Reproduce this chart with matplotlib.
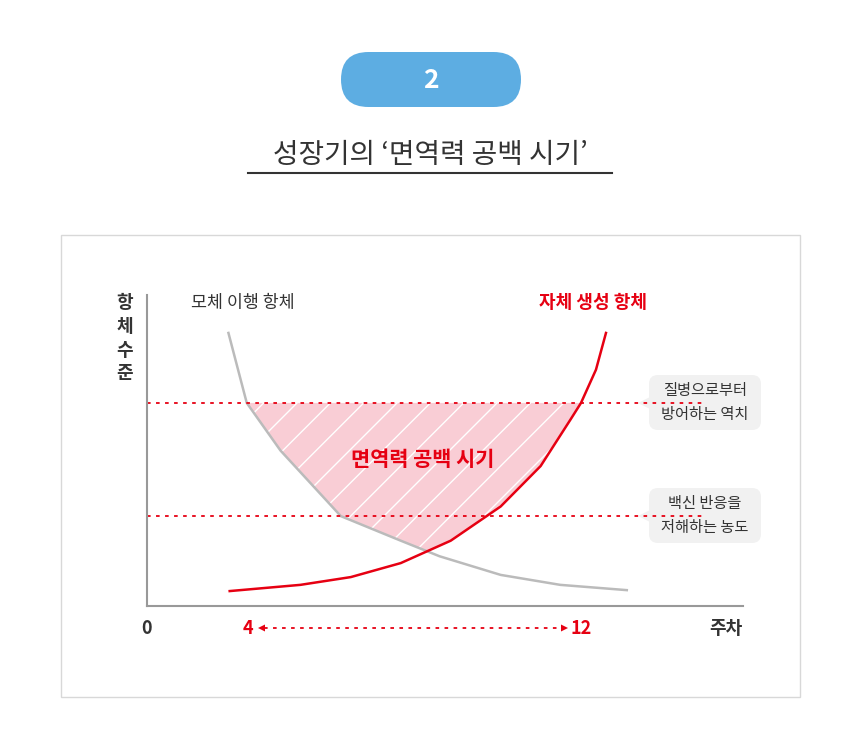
import numpy as np
import matplotlib.pyplot as plt
from matplotlib.patches import FancyBboxPatch, Rectangle, Polygon

plt.rcParams['font.family'] = ['Noto Sans CJK KR', 'DejaVu Sans']
plt.rcParams['hatch.color'] = 'white'
plt.rcParams['hatch.linewidth'] = 1.0

# curves (x in weeks, y in relative antibody level 0-100)
maternal_x = [3.53, 3.97, 4.78, 6.23, 7.67, 8.6, 10.07, 11.5, 13.1]
maternal_y = [87.8, 65.3, 50.0, 28.9, 21.0, 16.0, 10.0, 6.8, 5.1]
own_x = [3.56, 5.26, 6.47, 7.67, 8.87, 10.07, 11.03, 11.75, 12.0, 12.36, 12.6]
own_y = [4.8, 6.8, 9.3, 13.8, 21.0, 32.0, 45.0, 60.0, 65.3, 76.0, 87.8]
protect_level = 65.3
vaccine_level = 28.9

RED = '#e60012'
GREY = '#bbbbbb'
DARK = '#333333'

W, H = 860, 751
fig = plt.figure(figsize=(W / 100, H / 100), dpi=100)
bg = fig.add_axes([0, 0, 1, 1])
bg.set_xlim(0, W)
bg.set_ylim(H, 0)
bg.axis('off')

# header pill + title
bg.add_patch(FancyBboxPatch((341 + 27, 52), 180 - 54, 55, boxstyle='round,pad=0,rounding_size=27.5',
                            mutation_aspect=1, fc='#5dade2', ec='none'))
bg.add_patch(FancyBboxPatch((341, 52), 180, 55, boxstyle='round,pad=0,rounding_size=27.5',
                            fc='#5dade2', ec='none'))
bg.text(431, 80, '2', color='white', fontsize=19, fontweight='bold', ha='center', va='center')
bg.text(430, 155, '성장기의 ‘면역력 공백 시기’', color=DARK, fontsize=20, ha='center', va='center')
bg.plot([248, 612], [173, 173], color=DARK, lw=1.5)

# panel frame
bg.add_patch(Rectangle((61, 235), 739, 462, fc='none', ec='#d8d8d8', lw=1))

# chart axes: x=4 at px 248, x=12 at px 581; y 0..100 from px 606 to 295
x0 = 4 - (248 - 147) / 41.625
x1 = 4 + (743 - 248) / 41.625
ax = fig.add_axes([147 / W, 1 - 606 / H, (743 - 147) / W, (606 - 295) / H])
ax.set_xlim(x0, x1)
ax.set_ylim(0, 100)
ax.patch.set_alpha(0)
for s in ['top', 'right']:
    ax.spines[s].set_visible(False)
for s in ['left', 'bottom']:
    ax.spines[s].set_color('#999999')
    ax.spines[s].set_linewidth(1.5)
ax.set_xticks([])
ax.set_yticks([])

# gap region
xs = np.linspace(3.5, 12.6, 600)
g = np.interp(xs, maternal_x, maternal_y)
r = np.interp(xs, own_x, own_y)
low = np.maximum(g, r)
ax.fill_between(xs, low, protect_level, where=low < protect_level, fc='#f9cdd5',
                ec='none', hatch='/', lw=0, interpolate=True)

ax.plot(maternal_x, maternal_y, color=GREY, lw=1.8)
ax.plot(own_x, own_y, color=RED, lw=1.8)
for lv in [protect_level, vaccine_level]:
    ax.plot([x0, 15.0], [lv, lv], color=RED, lw=1.3, ls=(0, (2, 3)))

ax.text(8.2, 47, '면역력 공백 시기', color=RED, fontsize=15, fontweight='bold', ha='center', va='center')

# labels around the axes
bg.text(243, 303, '모체 이행 항체', color=DARK, fontsize=12.5, ha='center', va='center')
bg.text(593, 303, '자체 생성 항체', color=RED, fontsize=13, fontweight='bold', ha='center', va='center')
for i, ch in enumerate('항체수준'):
    bg.text(125, 302 + i * 24, ch, color=DARK, fontsize=13, fontweight='bold', ha='center', va='center')
bg.text(147, 629, '0', color=DARK, fontsize=13, fontweight='bold', ha='center', va='center')
bg.text(248, 629, '4', color=RED, fontsize=13, fontweight='bold', ha='center', va='center')
bg.text(581, 629, '12', color=RED, fontsize=13, fontweight='bold', ha='center', va='center')
bg.text(726, 629, '주차', color=DARK, fontsize=13, fontweight='bold', ha='center', va='center')
bg.plot([264, 562], [628, 628], color=RED, lw=1.3, ls=(0, (2, 3)))
bg.add_patch(Polygon([[258, 628], [265, 624.5], [265, 631.5]], fc=RED, ec='none'))
bg.add_patch(Polygon([[568, 628], [561, 624.5], [561, 631.5]], fc=RED, ec='none'))

# callouts
for top, lines, yl in [(375, '질병으로부터\n방어하는 역치', 403), (488, '백신 반응을\n저해하는 농도', 516)]:
    bg.add_patch(FancyBboxPatch((649, top), 112, 55, boxstyle='round,pad=0,rounding_size=9',
                                fc='#f1f1f1', ec='none'))
    bg.add_patch(Polygon([[638, yl], [650, yl - 6], [650, yl + 6]], fc='#f1f1f1', ec='none'))
    bg.text(705, top + 27.5, lines, color=DARK, fontsize=11, ha='center', va='center', linespacing=1.5)

fig.savefig('out.png', dpi=100)
